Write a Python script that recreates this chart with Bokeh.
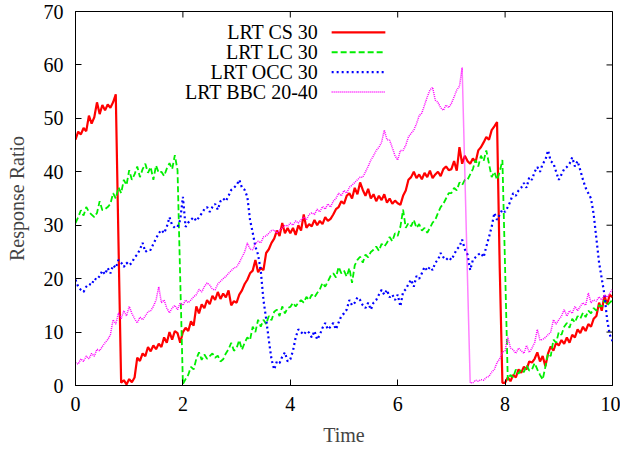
import math
from bokeh.plotting import figure
from bokeh.models import Range1d, FixedTicker, Label, Arrow
from bokeh.embed import file_html
from bokeh.resources import INLINE

# ---------------- data ----------------
time = [round(i * 0.05, 2) for i in range(201)]

cs30 = [
    46.0, 47.5, 47.0, 48.2, 47.6, 50.5, 49.0, 50.2, 53.0, 50.8, 52.5, 51.5, 52.6, 52.0, 53.0, 54.5, 27.0, 0.5, 1.0, 0.2,
    1.2, 0.6, 1.5, 5.2, 4.6, 6.0, 5.5, 7.2, 6.4, 7.5, 6.8, 7.8, 7.2, 9.0, 8.0, 10.0, 8.6, 10.2, 9.8, 8.0,
    10.0, 10.8, 10.2, 12.0, 11.2, 14.8, 13.5, 15.2, 14.5, 16.0, 15.2, 16.8, 16.0, 17.5, 16.2, 17.2, 16.5, 17.8, 15.0, 15.8,
    15.5, 17.0, 17.8, 19.0, 19.8, 21.0, 21.5, 23.5, 21.2, 22.0, 21.6, 24.8, 25.5, 26.7, 27.5, 29.0, 28.0, 30.4, 28.5, 29.5,
    28.5, 29.5, 28.2, 30.0, 29.0, 32.0, 29.5, 30.2, 29.8, 31.0, 30.0, 30.8, 30.2, 31.5, 30.8, 31.2, 32.0, 33.0, 33.4, 34.5,
    34.0, 35.5, 36.0, 35.0, 37.0, 35.8, 38.0, 36.6, 35.5, 36.8, 35.0, 35.8, 34.5, 35.5, 34.7, 35.8, 34.2, 35.0, 34.0, 34.6,
    34.1, 33.8, 35.5, 36.5, 38.5, 39.0, 40.0, 38.8, 39.5, 38.6, 39.8, 39.0, 40.2, 38.8, 39.5, 40.0, 39.2, 40.5, 41.0, 40.3,
    40.5, 42.0, 40.2, 44.6, 41.5, 43.0, 42.0, 41.5, 42.5, 41.8, 44.0, 44.6, 45.5, 46.5, 46.0, 47.8, 48.5, 49.3, 22.0, 0.5,
    0.5, 1.5, 0.8, 2.0, 1.5, 3.0, 2.4, 3.5, 3.0, 4.5, 4.3, 5.0, 6.2, 4.5, 5.5, 3.6, 6.0, 7.3, 6.5, 8.0,
    7.5, 8.5, 7.8, 9.0, 8.0, 9.5, 9.0, 10.5, 9.8, 11.0, 10.2, 11.5, 11.0, 12.5, 13.0, 15.5, 14.0, 16.8, 15.2, 17.0,
    16.5,
]

lc30 = [
    30.4, 31.5, 32.8, 31.8, 33.4, 32.5, 32.0, 31.5, 32.3, 34.5, 32.8, 33.0, 33.4, 34.0, 36.0, 35.0, 37.1, 36.0, 38.5, 37.5,
    40.3, 38.5, 39.5, 41.0, 39.0, 40.5, 41.5, 39.8, 40.9, 38.5, 41.2, 39.8, 40.0, 39.2, 40.6, 41.6, 40.5, 43.1, 40.3, 20.0,
    0.3, 1.2, 2.0, 3.5, 3.0, 5.0, 6.2, 4.8, 5.8, 5.0, 5.5, 6.0, 5.2, 5.6, 4.5, 4.9, 6.0, 6.8, 8.0, 6.5,
    7.0, 8.5, 6.7, 8.0, 9.0, 8.5, 11.0, 10.0, 12.3, 11.0, 12.3, 11.5, 13.0, 12.2, 13.8, 14.2, 13.0, 14.8, 13.5, 14.5,
    14.7, 15.5, 14.8, 15.5, 16.0, 15.5, 16.6, 16.0, 17.0, 16.5, 17.3, 18.0, 19.2, 18.5, 19.5, 20.5, 21.0, 20.2, 22.2, 21.0,
    21.5, 20.4, 22.0, 19.2, 22.5, 23.5, 24.1, 23.0, 24.5, 24.0, 25.0, 25.4, 26.0, 25.2, 26.5, 26.0, 26.7, 27.8, 27.0, 28.5,
    28.0, 29.7, 32.9, 29.5, 30.4, 29.8, 31.0, 29.5, 30.2, 29.0, 29.5, 28.6, 29.5, 30.5, 31.0, 32.3, 33.4, 34.0, 35.0, 36.0,
    36.0, 37.0, 36.5, 38.0, 37.5, 38.5, 38.5, 39.5, 40.5, 42.2, 41.0, 43.0, 42.0, 44.0, 41.5, 39.0, 40.0, 38.5, 40.0, 42.2,
    22.0, 1.0, 2.0, 1.5, 3.0, 2.2, 3.0, 2.5, 3.8, 2.8, 3.0, 4.2, 3.0, 2.0, 1.1, 3.5, 6.0, 5.5, 8.6, 8.0,
    10.0, 9.5, 11.0, 11.7, 10.8, 12.5, 11.8, 13.0, 12.5, 13.6, 12.8, 14.0, 13.5, 14.5, 14.0, 15.0, 14.8, 16.0, 15.0, 15.5,
    16.0,
]

occ30 = [
    19.8, 18.5, 17.9, 17.5, 18.5, 19.0, 18.8, 20.0, 19.8, 20.5, 21.5, 20.8, 22.0, 21.0, 22.5, 22.0, 23.5, 23.0, 22.2, 23.0,
    22.5, 23.0, 24.0, 24.5, 25.5, 26.7, 25.0, 25.4, 25.4, 26.5, 27.5, 28.5, 29.1, 28.5, 29.7, 31.5, 30.0, 29.5, 29.7, 31.0,
    35.3, 29.7, 30.5, 31.0, 31.5, 30.8, 31.5, 32.2, 33.0, 33.4, 32.5, 33.4, 34.0, 32.9, 34.5, 35.0, 34.5, 35.5, 36.6, 37.0,
    37.5, 38.5, 37.0, 36.6, 35.3, 31.0, 28.6, 26.0, 24.5, 21.5, 16.0, 12.5, 8.5, 4.9, 3.0, 4.5, 4.2, 5.4, 6.2, 4.5,
    4.9, 6.5, 9.0, 10.5, 10.0, 9.5, 10.2, 9.9, 9.0, 10.2, 8.6, 9.5, 10.8, 11.7, 10.5, 11.0, 11.7, 10.5, 11.8, 13.0,
    13.5, 14.2, 16.0, 15.0, 15.5, 16.5, 16.0, 15.0, 14.5, 15.5, 14.2, 15.5, 16.0, 17.0, 17.9, 17.0, 17.9, 16.5, 17.0, 16.0,
    17.0, 14.8, 17.5, 18.0, 19.0, 19.8, 18.5, 20.5, 20.0, 21.0, 22.2, 21.5, 22.2, 21.6, 23.0, 23.5, 24.8, 24.0, 23.5, 24.0,
    23.5, 24.5, 25.5, 26.0, 27.3, 25.5, 24.5, 21.6, 23.5, 24.0, 24.5, 24.8, 24.0, 26.0, 27.8, 29.7, 32.3, 31.0, 32.0, 32.9,
    32.5, 33.4, 34.5, 36.0, 35.5, 36.5, 37.0, 37.9, 37.0, 39.0, 38.5, 40.0, 40.9, 40.0, 41.5, 42.2, 44.0, 42.0, 41.6, 40.0,
    38.5, 39.5, 40.5, 40.9, 41.5, 42.7, 41.0, 42.0, 40.3, 38.5, 37.0, 36.0, 35.0, 32.0, 27.5, 23.0, 20.0, 17.0, 12.3, 9.5,
    8.3,
]

bbc2040 = [
    4.3, 4.0, 5.0, 4.5, 5.5, 5.0, 6.0, 5.5, 6.8, 6.5, 7.3, 8.0, 8.6, 9.5, 12.3, 11.5, 13.6, 12.5, 14.0, 13.0,
    14.8, 13.5, 12.5, 11.7, 12.8, 12.3, 13.0, 13.8, 14.0, 14.8, 16.0, 18.5, 15.5, 16.0, 14.5, 13.6, 14.5, 15.0, 14.2, 15.5,
    15.0, 16.0, 15.5, 16.0, 16.6, 17.0, 18.0, 17.5, 18.5, 19.2, 18.8, 18.0, 17.9, 19.0, 19.5, 20.0, 20.4, 21.0, 21.5, 22.0,
    22.2, 23.0, 24.0, 25.0, 26.7, 25.5, 25.4, 26.5, 27.0, 26.7, 27.8, 28.0, 28.5, 29.0, 29.1, 28.5, 29.1, 29.5, 30.0, 29.8,
    30.4, 30.0, 30.8, 30.4, 31.0, 31.5, 31.0, 32.0, 32.3, 32.0, 33.0, 32.5, 33.5, 33.0, 34.0, 33.4, 34.5, 35.0, 36.0, 35.5,
    36.5, 36.0, 37.1, 37.5, 38.0, 38.5, 39.0, 39.0, 40.0, 41.0, 42.2, 43.0, 44.0, 44.6, 45.5, 47.8, 46.0, 45.9, 44.5, 43.0,
    42.2, 44.0, 44.0, 45.0, 46.5, 47.2, 47.8, 49.0, 50.5, 51.0, 52.5, 54.0, 55.3, 55.8, 53.4, 53.0, 52.0, 51.5, 52.5, 52.0,
    52.8, 54.0, 55.3, 56.0, 59.5, 40.0, 20.0, 0.5, 0.5, 1.0, 0.8, 1.1, 1.0, 1.5, 1.7, 2.5, 3.0, 4.3, 5.0, 6.2,
    6.5, 9.1, 7.0, 6.7, 6.0, 7.0, 6.5, 6.0, 7.5, 6.2, 7.0, 8.0, 10.5, 8.5, 8.6, 9.0, 9.5, 10.0, 12.3, 11.5,
    12.3, 13.0, 14.2, 13.0, 14.0, 13.5, 14.8, 14.0, 14.8, 15.5, 15.0, 17.3, 15.5, 16.0, 15.8, 16.6, 16.0, 17.0, 16.5, 17.3,
    18.0,
]

series_names = ["LRT CS 30", "LRT LC 30", "LRT OCC 30", "LRT BBC 20-40"]
x_ticks = [0, 2, 4, 6, 8, 10]
y_ticks = [0, 10, 20, 30, 40, 50, 60, 70]
X_MIN, X_MAX = 0, 10
Y_MIN, Y_MAX = 0, 70

# ---------------- styles ----------------
FONT = "Liberation Serif"
styles = [
    dict(color="#ff0000", width=2.2, dash="solid"),
    dict(color="#00ee00", width=1.8, dash="6 3"),
    dict(color="#0000ff", width=2.2, dash="2 3"),
    dict(color="#ff00ff", width=1.5, dash="1 1"),
]

p = figure(width=620, height=448, output_backend="svg", toolbar_location=None,
           x_range=Range1d(X_MIN, X_MAX), y_range=Range1d(Y_MIN, Y_MAX),
           min_border_left=75, min_border_right=8, min_border_top=11, min_border_bottom=62)
p.background_fill_color = "white"
p.border_fill_color = "white"
p.outline_line_color = "black"
p.outline_line_width = 1
p.xgrid.visible = False
p.ygrid.visible = False

for ys, st in zip([cs30, lc30, occ30, bbc2040], styles):
    p.line(time, ys, line_color=st["color"], line_width=st["width"], line_dash=st["dash"])

# axes
for ax in (p.xaxis[0], p.yaxis[0]):
    ax.major_tick_in = 6
    ax.major_tick_out = 0
    ax.minor_tick_in = 0
    ax.minor_tick_out = 0
    ax.major_label_text_font = FONT
    ax.major_label_text_font_size = "20px"
    ax.major_label_text_color = "black"
    ax.axis_label_text_font = FONT
    ax.axis_label_text_font_size = "20px"
    ax.axis_label_text_font_style = "normal"
    ax.axis_line_color = "black"
p.xaxis.ticker = FixedTicker(ticks=x_ticks)
p.yaxis.ticker = FixedTicker(ticks=y_ticks)
p.xaxis.axis_label = "Time"
p.yaxis.axis_label = "Response Ratio"
p.xaxis.major_label_standoff = 11
p.xaxis.axis_label_standoff = 10
p.yaxis.major_label_standoff = 12
p.yaxis.axis_label_standoff = 13

# mirror ticks on top and right edges (half of each dash is clipped by the frame)
p.scatter(x_ticks, [Y_MAX] * len(x_ticks), marker="dash", size=12, angle=math.pi / 2,
          line_color="black", line_width=1)
p.scatter([X_MAX] * len(y_ticks), y_ticks, marker="dash", size=12,
          line_color="black", line_width=1)

# legend (gnuplot style: text on the left, sample on the right), data units
leg_text_x = 4.52
leg_x0, leg_x1 = 4.77, 5.77
leg_y0, leg_dy = 66.1, 3.73
for i, (name, st) in enumerate(zip(series_names, styles)):
    yy = leg_y0 - i * leg_dy
    p.add_layout(Label(x=leg_text_x, y=yy, text=name, text_align="right", text_baseline="middle",
                       text_font=FONT, text_font_size="20px", text_color="black"))
    p.add_layout(Arrow(x_start=leg_x0, y_start=yy, x_end=leg_x1, y_end=yy, end=None,
                       line_color=st["color"], line_width=st["width"], line_dash=st["dash"]))

open("out.html", "w").write(file_html(p, INLINE))
